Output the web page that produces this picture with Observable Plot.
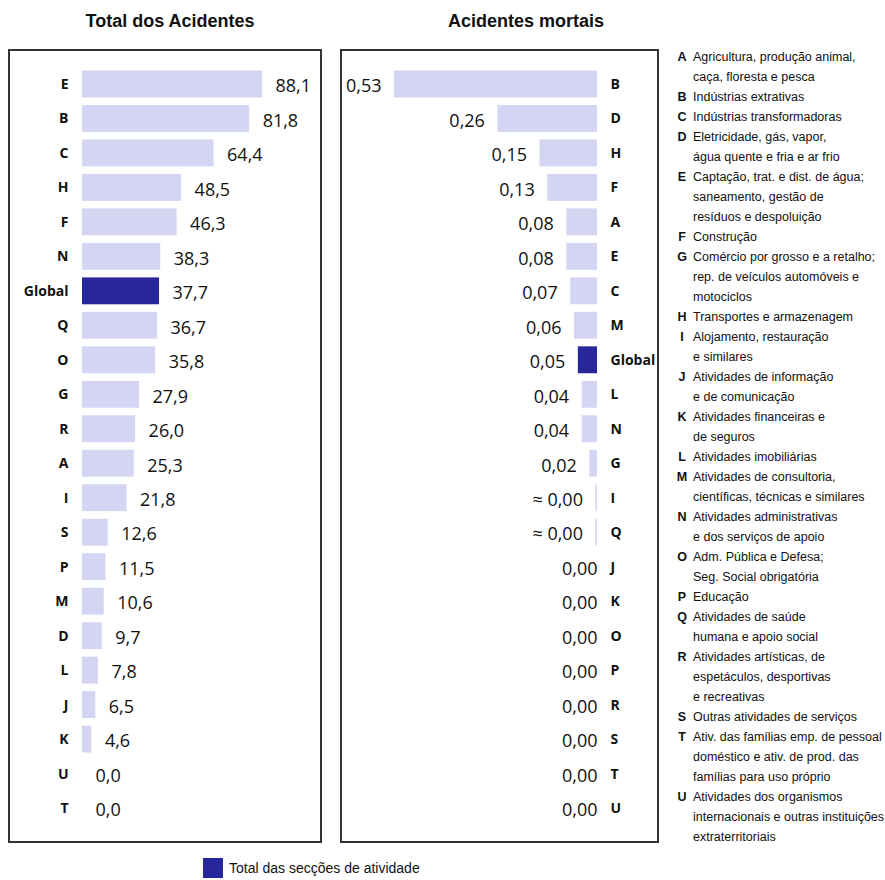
<!DOCTYPE html>
<html><head><meta charset="utf-8">
<script src="https://cdn.jsdelivr.net/npm/d3@7"></script>
<script src="https://cdn.jsdelivr.net/npm/@observablehq/plot@0.6"></script>
<style>
html,body{margin:0;padding:0;background:#fff;overflow:hidden;width:885px;height:880px}
#root{position:relative;width:885px;height:880px;overflow:hidden;background:#fff}
.title{position:absolute;top:11px;height:24px;line-height:24px;font:bold 18px "Liberation Sans",Arial,sans-serif;color:#111;text-align:center}
.panel{position:absolute;top:49px}
.panel svg{display:block;outline:2px solid #333;outline-offset:-2px}
#list{position:absolute;left:675px;top:47px;font:12.5px "Liberation Sans",Arial,sans-serif;color:#111;white-space:nowrap}
.row{height:20px;line-height:20px;position:relative}
.k{position:absolute;left:0;width:14px;text-align:center;font-weight:bold}
.t{position:absolute;left:18px}
#legend{position:absolute;left:203px;top:858px;height:20px;font:14px "Liberation Sans",Arial,sans-serif;color:#111;white-space:nowrap}
#legend .sw{position:absolute;left:0;top:0;width:20px;height:20px;background:#27279b}
#legend .lt{position:absolute;left:26px;top:0;line-height:20px}
</style>
</head><body>
<div id="root">
  <div class="title" style="left:0;width:340px">Total dos Acidentes</div>
  <div class="title" style="left:416px;width:220px">Acidentes mortais</div>
  <div class="panel" id="left" style="left:8px"></div>
  <div class="panel" id="right" style="left:340px"></div>
  <div id="list"></div>
  <div id="legend"><div class="sw"></div><div class="lt">Total das secções de atividade</div></div>
</div>
<script>
// ---- data ----
const leftCats = ["E","B","C","H","F","N","Global","Q","O","G","R","A","I","S","P","M","D","L","J","K","U","T"];
const leftVals = [88.1,81.8,64.4,48.5,46.3,38.3,37.7,36.7,35.8,27.9,26.0,25.3,21.8,12.6,11.5,10.6,9.7,7.8,6.5,4.6,0.0,0.0];

const rightCats = ["B","D","H","F","A","E","C","M","Global","L","N","G","I","Q","J","K","O","P","R","S","T","U"];
const rightVals = [0.53,0.26,0.15,0.13,0.08,0.08,0.07,0.06,0.05,0.04,0.04,0.02,0.004,0.004,0,0,0,0,0,0,0,0];
const rightLabels = ["0,53","0,26","0,15","0,13","0,08","0,08","0,07","0,06","0,05","0,04","0,04","0,02","≈ 0,00","≈ 0,00","0,00","0,00","0,00","0,00","0,00","0,00","0,00","0,00"];

const sectionCodes = ["A","B","C","D","E","F","G","H","I","J","K","L","M","N","O","P","Q","R","S","T","U"];
const sectionNames = [
  ["Agricultura, produção animal,","caça, floresta e pesca"],
  ["Indústrias extrativas"],
  ["Indústrias transformadoras"],
  ["Eletricidade, gás, vapor,","água quente e fria e ar frio"],
  ["Captação, trat. e dist. de água;","saneamento, gestão de","resíduos e despoluição"],
  ["Construção"],
  ["Comércio por grosso e a retalho;","rep. de veículos automóveis e","motociclos"],
  ["Transportes e armazenagem"],
  ["Alojamento, restauração","e similares"],
  ["Atividades de informação","e de comunicação"],
  ["Atividades financeiras e","de seguros"],
  ["Atividades imobiliárias"],
  ["Atividades de consultoria,","científicas, técnicas e similares"],
  ["Atividades administrativas","e dos serviços de apoio"],
  ["Adm. Pública e Defesa;","Seg. Social obrigatória"],
  ["Educação"],
  ["Atividades de saúde","humana e apoio social"],
  ["Atividades artísticas, de","espetáculos, desportivas","e recreativas"],
  ["Outras atividades de serviços"],
  ["Ativ. das famílias emp. de pessoal","doméstico e ativ. de prod. das","famílias para uso próprio"],
  ["Atividades dos organismos","internacionais e outras instituições","extraterritoriais"]
];

const light = "#d4d4f3";
const dark = "#27279b";

const leftData = leftCats.map((c,i)=>({cat:c, value:leftVals[i], label:leftVals[i].toFixed(1).replace(".",",")}));
const rightData = rightCats.map((c,i)=>({cat:c, value:rightVals[i], label:rightLabels[i]}));

const leftPlot = Plot.plot({
  width:314, height:794,
  marginLeft:74, marginRight:60, marginTop:21.5, marginBottom:21.5,
  x:{domain:[0,88.1], axis:null},
  y:{domain:leftCats, paddingInner:0.22, paddingOuter:0, round:false},
  color:{type:"identity"},
  style:{fontFamily:"'Open Sans', sans-serif", background:"white", color:"#111"},
  marks:[
    Plot.barX(leftData,{x:"value", y:"cat", fill:d=>d.cat==="Global"?dark:light}),
    Plot.axisY({anchor:"left", tickSize:0, tickPadding:14, fontSize:14, fontWeight:"bold", label:null}),
    Plot.text(leftData,{x:"value", y:"cat", text:"label", textAnchor:"start", dx:13, dy:2, fontSize:18, fill:"#111"})
  ]
});
document.getElementById("left").appendChild(leftPlot);

const rightPlot = Plot.plot({
  width:319, height:794,
  marginLeft:54, marginRight:62, marginTop:21.5, marginBottom:21.5,
  x:{domain:[0,0.53], reverse:true, axis:null},
  y:{domain:rightCats, paddingInner:0.22, paddingOuter:0, round:false},
  color:{type:"identity"},
  style:{fontFamily:"'Open Sans', sans-serif", background:"white", color:"#111"},
  marks:[
    Plot.barX(rightData,{x:"value", y:"cat", fill:d=>d.cat==="Global"?dark:light}),
    Plot.axisY({anchor:"right", tickSize:0, tickPadding:13, fontSize:14, fontWeight:"bold", label:null}),
    Plot.text(rightData.filter(d=>d.value>0),{x:"value", y:"cat", text:"label", textAnchor:"end", dx:-13, dy:2, fontSize:18, fill:"#111"}),
    Plot.text(rightData.filter(d=>d.value===0),{x:"value", y:"cat", text:"label", textAnchor:"end", dx:0, dy:2, fontSize:18, fill:"#111"})
  ]
});
document.getElementById("right").appendChild(rightPlot);

// section list
const list = document.getElementById("list");
sectionCodes.forEach((code,i)=>{
  sectionNames[i].forEach((line,j)=>{
    const row = document.createElement("div");
    row.className = "row";
    if (j===0) {
      const k = document.createElement("span"); k.className="k"; k.textContent=code; row.appendChild(k);
    }
    const t = document.createElement("span"); t.className="t"; t.textContent=line; row.appendChild(t);
    list.appendChild(row);
  });
});
</script>
</body></html>
